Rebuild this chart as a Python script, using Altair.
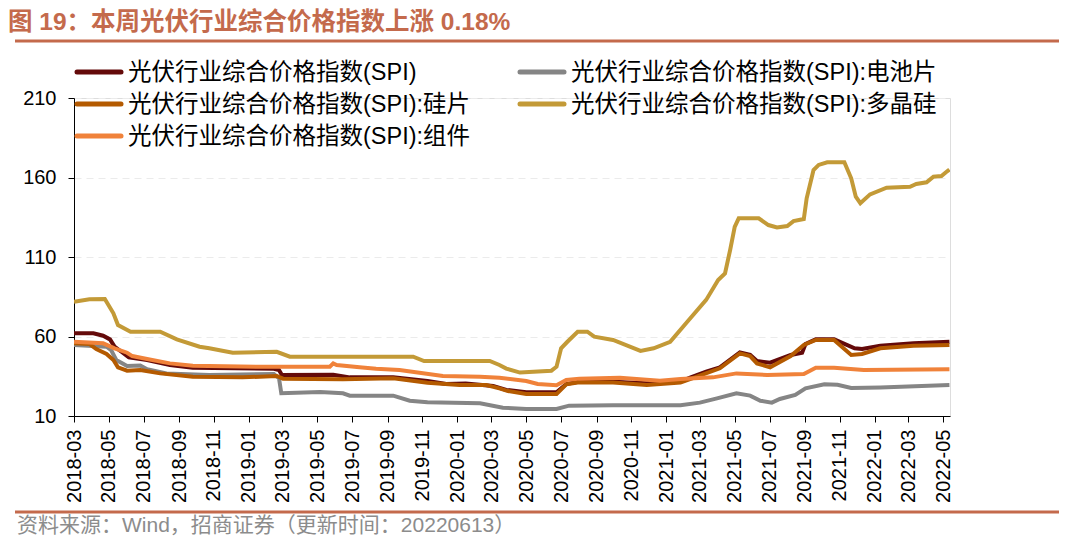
import altair as alt
import pandas as pd

TITLE = "图 19：本周光伏行业综合价格指数上涨 0.18%"
SOURCE = "资料来源：Wind，招商证券（更新时间：20220613）"

names = [
    "光伏行业综合价格指数(SPI)",
    "光伏行业综合价格指数(SPI):电池片",
    "光伏行业综合价格指数(SPI):硅片",
    "光伏行业综合价格指数(SPI):多晶硅",
    "光伏行业综合价格指数(SPI):组件",
]
colors = ["#640A0A", "#858585", "#B45A00", "#C39A37", "#F0823A"]

x_ticks = ["2018-03", "2018-05", "2018-07", "2018-09", "2018-11",
           "2019-01", "2019-03", "2019-05", "2019-07", "2019-09", "2019-11",
           "2020-01", "2020-03", "2020-05", "2020-07", "2020-09", "2020-11",
           "2021-01", "2021-03", "2021-05", "2021-07", "2021-09", "2021-11",
           "2022-01", "2022-03", "2022-05"]
y_ticks = [10, 60, 110, 160, 210]

spi_dates = ["2018-03-01", "2018-04-04", "2018-04-21", "2018-05-03", "2018-05-11",
             "2018-05-23", "2018-06-05", "2018-07-07", "2018-08-16", "2018-09-25",
             "2019-02-14", "2019-02-23", "2019-02-28", "2019-05-29", "2019-06-27",
             "2019-09-11", "2019-11-10", "2019-12-13", "2020-01-16", "2020-03-04",
             "2020-03-27", "2020-05-01", "2020-06-23", "2020-07-10", "2020-08-02",
             "2020-09-30", "2020-11-28", "2021-01-26", "2021-02-13", "2021-03-12",
             "2021-04-05", "2021-05-10", "2021-05-28", "2021-06-09", "2021-07-02",
             "2021-08-07", "2021-08-27", "2021-09-02", "2021-09-20", "2021-10-22",
             "2021-11-27", "2021-12-10", "2022-01-11", "2022-03-10", "2022-05-12"]
spi_values = [62, 62, 60.5, 58.2, 53.6,
              50.4, 46.9, 45.2, 42.1, 40.4,
              39.7, 38.9, 35.8, 36, 34.3,
              34.3, 32, 30.1, 30.5, 28.9,
              26.4, 24.9, 24.9, 30.1, 31.6,
              31.6, 30.6, 31.6, 34.3, 37.9,
              40.6, 50, 48.4, 44.6, 43.5,
              48.4, 49.8, 55.3, 58.2, 58.2,
              52.6, 52.1, 54.2, 55.7, 56.7]

cell_dates = ["2018-03-01", "2018-04-27", "2018-05-05", "2018-05-14", "2018-06-02",
              "2018-06-25", "2018-07-07", "2018-08-10", "2018-10-24", "2019-02-14",
              "2019-02-23", "2019-02-27", "2019-05-06", "2019-06-15", "2019-06-27",
              "2019-09-11", "2019-10-10", "2019-11-10", "2020-02-10", "2020-03-21",
              "2020-05-01", "2020-06-23", "2020-07-15", "2020-09-30", "2021-01-26",
              "2021-03-01", "2021-03-31", "2021-05-04", "2021-05-28", "2021-06-15",
              "2021-07-05", "2021-07-19", "2021-08-15", "2021-09-02", "2021-10-05",
              "2021-10-28", "2021-11-21", "2022-01-11", "2022-05-12"]
cell_values = [54.7, 53.6, 51.5, 45.2, 41.4,
               41.8, 39.4, 36.8, 35.8, 36.4,
               33.7, 24.3, 25.1, 24.3, 22.8,
               22.8, 19.6, 18.6, 18, 15.2,
               14.4, 14.4, 16.5, 16.7, 16.7,
               18.4, 21.1, 24.3, 22.8, 19.6,
               18.4, 20.7, 23.2, 27.4, 29.9,
               29.6, 27.6, 28, 29.5]

wafer_dates = ["2018-03-01", "2018-03-28", "2018-04-09", "2018-04-27", "2018-05-09",
               "2018-05-17", "2018-06-02", "2018-06-25", "2018-07-30", "2018-09-25",
               "2018-12-21", "2019-02-19", "2019-03-02", "2019-06-15", "2019-09-11",
               "2019-11-10", "2020-01-05", "2020-02-21", "2020-03-15", "2020-03-30",
               "2020-05-01", "2020-06-23", "2020-07-10", "2020-08-02", "2020-09-30",
               "2020-11-28", "2021-01-26", "2021-02-19", "2021-04-05", "2021-05-10",
               "2021-05-28", "2021-06-09", "2021-07-02", "2021-08-07", "2021-08-30",
               "2021-09-20", "2021-10-22", "2021-11-21", "2021-12-10", "2022-01-11",
               "2022-03-10", "2022-05-12"]
wafer_values = [55.7, 55.3, 52.1, 49, 45.2,
                40.6, 38.5, 38.9, 36.8, 34.7,
                34.3, 35.2, 33.5, 33.1, 33.7,
                30.9, 29.5, 29.5, 27.4, 25.7,
                23.8, 23.8, 29.9, 31.2, 31,
                29.5, 31, 34.1, 40, 49.4,
                47.7, 43.1, 40.6, 47.7, 54.7,
                57.8, 57.8, 48.4, 49, 52.6,
                54.2, 54.7]

poly_dates = ["2018-03-01", "2018-03-28", "2018-04-24", "2018-05-09", "2018-05-17",
              "2018-06-08", "2018-07-30", "2018-08-28", "2018-10-07", "2018-10-24",
              "2018-11-18", "2018-12-04", "2019-02-19", "2019-03-14", "2019-10-16",
              "2019-11-04", "2020-02-27", "2020-03-15", "2020-03-27", "2020-04-20",
              "2020-06-14", "2020-06-23", "2020-07-01", "2020-07-12", "2020-07-30",
              "2020-08-16", "2020-08-28", "2020-09-30", "2020-11-17", "2020-12-10",
              "2021-01-08", "2021-02-07", "2021-03-12", "2021-04-02", "2021-04-14",
              "2021-04-23", "2021-05-01", "2021-05-08", "2021-06-12", "2021-06-29",
              "2021-07-14", "2021-08-01", "2021-08-12", "2021-08-30", "2021-09-04",
              "2021-09-16", "2021-09-25", "2021-10-10", "2021-11-09", "2021-11-21",
              "2021-11-29", "2021-12-07", "2021-12-24", "2022-01-22", "2022-03-04",
              "2022-03-15", "2022-04-02", "2022-04-14", "2022-04-28", "2022-05-07",
              "2022-05-12"]
poly_values = [81.9, 83.4, 83.6, 74.6, 67.2,
               63, 63, 58.2, 53.6, 52.6,
               50.9, 49.8, 50.4, 47.3, 47.3,
               44.6, 44.6, 42.1, 39.8, 37.3,
               38.5, 41, 52.6, 56.7, 63,
               63, 59.9, 57.8, 50.9, 52.6,
               56.7, 69.3, 83, 95.5, 99.7,
               114.4, 129, 134.3, 134.3, 130.1,
               128.6, 129.5, 132.6, 133.9, 146.9,
               164.7, 167.9, 169.6, 169.6, 159.5,
               147.9, 143.8, 149.4, 153.6, 154.2,
               155.9, 157, 160.5, 160.9, 163.6,
               165]

module_dates = ["2018-03-01", "2018-04-21", "2018-05-11", "2018-06-02", "2018-06-11",
                "2018-07-07", "2018-08-16", "2018-09-25", "2019-01-20", "2019-05-23",
                "2019-05-29", "2019-06-04", "2019-07-14", "2019-08-12", "2019-09-22",
                "2019-12-07", "2020-02-10", "2020-03-15", "2020-05-01", "2020-05-21",
                "2020-06-23", "2020-07-10", "2020-08-02", "2020-10-12", "2020-12-21",
                "2021-01-26", "2021-03-24", "2021-05-04", "2021-06-27", "2021-08-30",
                "2021-09-20", "2021-10-22", "2021-12-13", "2022-05-12"]
module_values = [56.7, 55.7, 52.6, 49.8, 47.7,
                 45.8, 43.1, 41.6, 41, 41,
                 43.1, 42.1, 40.6, 39.7, 38.9,
                 35.2, 34.7, 34.1, 32, 30.1,
                 29.3, 32.6, 33.5, 34.1, 32.2,
                 33.3, 34.3, 36.8, 35.8, 36.4,
                 40.4, 40.4, 38.9, 39.4]

series = [
    (names[0], spi_dates, spi_values),
    (names[1], cell_dates, cell_values),
    (names[2], wafer_dates, wafer_values),
    (names[3], poly_dates, poly_values),
    (names[4], module_dates, module_values),
]

rows = []
for order, (name, ds, vs) in enumerate(series):
    for d, v in zip(ds, vs):
        rows.append({"series": name, "date": d, "value": v, "order": order})
df = pd.DataFrame(rows)

FONT = "Liberation Sans, Arial, Noto Sans CJK SC"
TITLE_COLOR = "#C46A4C"


def dt(s):
    y, m = s.split("-")[:2]
    return alt.DateTime(year=int(y), month=int(m), date=1, utc=True)


x_domain = [alt.DateTime(year=2018, month=3, date=1, utc=True),
            alt.DateTime(year=2022, month=5, date=13, utc=True)]

lines = alt.Chart(df).mark_line(strokeWidth=4, clip=True).encode(
    x=alt.X("date:T",
            scale=alt.Scale(type="utc", domain=x_domain),
            axis=alt.Axis(values=[dt(t) for t in x_ticks],
                          labelExpr="utcFormat(datum.value, '%Y-%m')",
                          labelAngle=-90, labelFontSize=20,
                          labelPadding=7, tickSize=6, tickColor="black",
                          domainColor="black", labelColor="black", grid=False,
                          title=None, labelFont=FONT)),
    y=alt.Y("value:Q",
            scale=alt.Scale(domain=[10, 210], nice=False, zero=False),
            axis=alt.Axis(values=y_ticks, labelFontSize=20, labelPadding=12,
                          tickSize=6, tickColor="black", domainColor="black",
                          labelColor="black", grid=True, gridColor="#EBEBEB",
                          gridDash=[7, 5], title=None, labelFont=FONT)),
    color=alt.Color("series:N",
                    scale=alt.Scale(domain=names, range=colors),
                    legend=None),
    order=alt.Order("order:Q"),
    detail="series:N",
)

# legend laid out in two columns, row-major, as in the reference
layers = [lines]
col_x = [1, 444]
row_y = [-26, 6, 38]
for i, (name, color) in enumerate(zip(names, colors)):
    cx = col_x[i % 2]
    ry = row_y[i // 2]
    d = pd.DataFrame({"t": [name]})
    layers.append(alt.Chart(d).mark_rule(color=color, strokeWidth=5,
                                         strokeCap="round").encode(
        x=alt.value(cx + 2), x2=alt.value(cx + 46), y=alt.value(ry)))
    layers.append(alt.Chart(d).mark_text(align="left", baseline="middle",
                                         fontSize=23.5, font=FONT,
                                         color="black").encode(
        x=alt.value(cx + 53), y=alt.value(ry + 1), text="t:N"))

one = pd.DataFrame({"t": [TITLE]})
layers.append(alt.Chart(one).mark_text(align="left", baseline="middle",
                                       fontSize=24.5, fontWeight="bold",
                                       color=TITLE_COLOR, font=FONT).encode(
    x=alt.value(-66), y=alt.value(-75), text="t:N"))

layers.append(alt.Chart(one).mark_rule(color=TITLE_COLOR, strokeWidth=3).encode(
    x=alt.value(-59), x2=alt.value(988), y=alt.value(-57)))

layers.append(alt.Chart(one).mark_rule(color=TITLE_COLOR, strokeWidth=3).encode(
    x=alt.value(-59), x2=alt.value(988), y=alt.value(414)))

src = pd.DataFrame({"t": [SOURCE]})
layers.append(alt.Chart(src).mark_text(align="left", baseline="alphabetic",
                                       fontSize=21, color="#8C8C8C",
                                       font=FONT).encode(
    x=alt.value(-57), y=alt.value(434), text="t:N"))

chart = alt.layer(*layers).properties(
    width=876, height=318,
    padding={"left": 66, "top": 90, "right": 109, "bottom": 120},
    autosize=alt.AutoSizeParams(type="none"),
).configure_view(stroke="transparent").configure(background="white")

chart.save("out.html", embed_options={"renderer": "svg", "actions": False})
